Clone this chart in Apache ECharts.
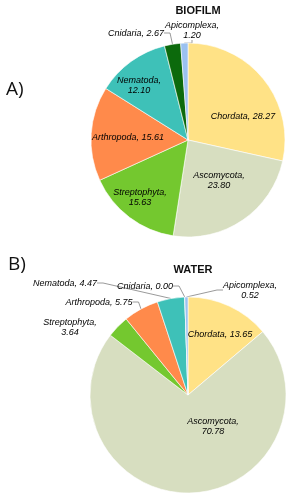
<!DOCTYPE html>
<html><head><meta charset="utf-8">
<script src="https://cdn.jsdelivr.net/npm/echarts@6/dist/echarts.min.js"></script>
<style>html,body{margin:0;padding:0;background:#fff}#c{width:287px;height:496px}</style>
</head><body><div id="c"></div>
<script>
const categories = ['Chordata','Ascomycota','Streptophyta','Arthropoda','Nematoda','Cnidaria','Apicomplexa'];
const biofilmValues = [28.27, 23.80, 15.63, 15.61, 12.10, 2.67, 1.20];
const waterValues = [13.65, 70.78, 3.64, 5.75, 4.47, 0.00, 0.52];
const sliceColors = ['#FFE286', '#D7DEC0', '#74C82F', '#FF8A4B', '#3EC1B8', '#0C6A0C', '#9BC1F0'];

// label placement (text layout only)
const layoutA = {
  pos: [[243,116],[219,180],[140,197],[128,137],[139,85],[136,33],[192,30]],
  wrap: [false,true,true,false,true,false,true],
  outside: [false,false,false,false,false,true,true]
};
const layoutB = {
  pos: [[220,334],[213,426],[70,327],[99,302],[65,283],[145,286],[250,290]],
  wrap: [false,true,true,false,false,false,true],
  outside: [false,false,false,true,true,true,true]
};

function buildSeries(values, center, radius, L) {
  return {
    type: 'pie',
    center: center,
    radius: radius,
    startAngle: 90,
    clockwise: true,
    avoidLabelOverlap: false,
    animation: false,
    itemStyle: { borderColor: '#ffffff', borderWidth: 0.6 },
    label: {
      fontFamily: 'Liberation Sans, Arial, sans-serif',
      fontStyle: 'italic',
      fontSize: 9,
      lineHeight: 10,
      color: '#000',
      align: 'center'
    },
    labelLine: { lineStyle: { color: '#808080', width: 0.8 }, length: 6, length2: 6 },
    labelLayout: function (p) {
      const xy = L.pos[p.dataIndex];
      return { x: xy[0], y: xy[1], align: 'center', verticalAlign: 'middle' };
    },
    data: categories.map((n, i) => ({
      name: n,
      value: values[i],
      itemStyle: { color: sliceColors[i] },
      label: {
        position: L.outside[i] ? 'outside' : 'inside',
        formatter: n + ',' + (L.wrap[i] ? '\n' : ' ') + values[i].toFixed(2)
      },
      labelLine: { show: L.outside[i] }
    }))
  };
}

const chart = echarts.init(document.getElementById('c'), null, { renderer: 'canvas' });
chart.setOption({
  backgroundColor: '#fff',
  title: [
    { text: 'BIOFILM', left: 193, top: 0, textAlign: 'center',
      textStyle: { fontFamily: 'Liberation Sans, Arial', fontWeight: 'bold', fontSize: 11, color: '#111' } },
    { text: 'WATER', left: 188, top: 259, textAlign: 'center',
      textStyle: { fontFamily: 'Liberation Sans, Arial', fontWeight: 'bold', fontSize: 11, color: '#111' } },
    { text: 'A)', left: 1, top: 75,
      textStyle: { fontFamily: 'Open Sans, Liberation Sans', fontWeight: 'normal', fontSize: 19, color: '#111' } },
    { text: 'B)', left: 3, top: 250,
      textStyle: { fontFamily: 'Open Sans, Liberation Sans', fontWeight: 'normal', fontSize: 19, color: '#111' } }
  ],
  series: [
    buildSeries(biofilmValues, [188, 140], 97, layoutA),
    buildSeries(waterValues, [188, 395], 98, layoutB)
  ]
});
</script></body></html>
